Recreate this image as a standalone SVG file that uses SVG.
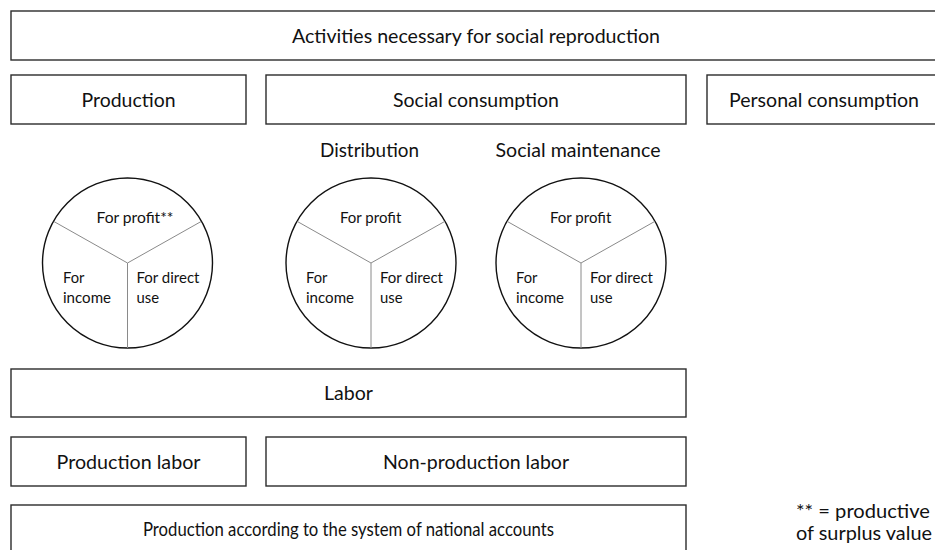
<svg xmlns="http://www.w3.org/2000/svg" width="935" height="550" viewBox="0 0 935 550">
  <style>
    .box { fill: #ffffff; stroke: #2b2b2b; stroke-width: 1.4; }
    .pie { fill: #ffffff; stroke: #111111; stroke-width: 1.4; }
    .spoke { fill: none; stroke: #8a8a8a; stroke-width: 1; }
    text { font-family: Lato, "Open Sans", "Liberation Sans", sans-serif; fill: #111111; }
    .lg { font-size: 19px; text-anchor: middle; }
    .hd { font-size: 19px; text-anchor: middle; }
    .sm { font-size: 14.5px; }
    .note { font-size: 19px; }
  </style>
  <defs>
    <!-- three-way split of a circle: two upper spokes at 30 degrees, one straight down -->
    <g id="split">
      <circle class="pie" cx="0" cy="0" r="85"/>
      <path class="spoke" d="M0 0 L-73.6 -41.5 M0 0 L73.6 -41.5 M0 0 L0 85"/>
    </g>
  </defs>

  <rect width="935" height="550" fill="#ffffff"/>

  <!-- top level -->
  <g id="activities">
    <rect class="box" x="11" y="11" width="931" height="49"/>
    <text class="lg" x="476" y="42.7" textLength="368" lengthAdjust="spacingAndGlyphs">Activities necessary for social reproduction</text>
  </g>

  <!-- second row -->
  <g id="production">
    <rect class="box" x="11" y="75" width="235" height="49"/>
    <text class="lg" x="128.5" y="106.5" textLength="94" lengthAdjust="spacingAndGlyphs">Production</text>
  </g>
  <g id="social-consumption">
    <rect class="box" x="266" y="75" width="420" height="49"/>
    <text class="lg" x="476" y="106.5" textLength="166" lengthAdjust="spacingAndGlyphs">Social consumption</text>
  </g>
  <g id="personal-consumption">
    <rect class="box" x="707" y="75" width="235" height="49"/>
    <text class="lg" x="824" y="106.5" textLength="190" lengthAdjust="spacingAndGlyphs">Personal consumption</text>
  </g>

  <!-- sub-headings over the social consumption circles -->
  <g id="distribution-label">
    <text class="hd" x="369.5" y="156.7" textLength="99" lengthAdjust="spacingAndGlyphs">Distribution</text>
  </g>
  <g id="maintenance-label">
    <text class="hd" x="578" y="156.7" textLength="165" lengthAdjust="spacingAndGlyphs">Social maintenance</text>
  </g>

  <!-- circles -->
  <g id="production-split">
    <use href="#split" x="127.5" y="263"/>
    <text class="sm" x="96.5" y="222.7" textLength="77" lengthAdjust="spacingAndGlyphs">For profit**</text>
    <text class="sm" x="63" y="283" textLength="21.4" lengthAdjust="spacingAndGlyphs">For</text>
    <text class="sm" x="63" y="302.5" textLength="48" lengthAdjust="spacingAndGlyphs">income</text>
    <text class="sm" x="136.5" y="283" textLength="63" lengthAdjust="spacingAndGlyphs">For direct</text>
    <text class="sm" x="136.5" y="302.5" textLength="22.6" lengthAdjust="spacingAndGlyphs">use</text>
  </g>
  <g id="distribution-split">
    <use href="#split" x="371" y="263"/>
    <text class="sm" x="340" y="222.7" textLength="61.3" lengthAdjust="spacingAndGlyphs">For profit</text>
    <text class="sm" x="306" y="283" textLength="21.4" lengthAdjust="spacingAndGlyphs">For</text>
    <text class="sm" x="306" y="302.5" textLength="48" lengthAdjust="spacingAndGlyphs">income</text>
    <text class="sm" x="380" y="283" textLength="63" lengthAdjust="spacingAndGlyphs">For direct</text>
    <text class="sm" x="380" y="302.5" textLength="22.6" lengthAdjust="spacingAndGlyphs">use</text>
  </g>
  <g id="maintenance-split">
    <use href="#split" x="581" y="263"/>
    <text class="sm" x="550" y="222.7" textLength="61.3" lengthAdjust="spacingAndGlyphs">For profit</text>
    <text class="sm" x="516" y="283" textLength="21.4" lengthAdjust="spacingAndGlyphs">For</text>
    <text class="sm" x="516" y="302.5" textLength="48" lengthAdjust="spacingAndGlyphs">income</text>
    <text class="sm" x="590" y="283" textLength="63" lengthAdjust="spacingAndGlyphs">For direct</text>
    <text class="sm" x="590" y="302.5" textLength="22.6" lengthAdjust="spacingAndGlyphs">use</text>
  </g>

  <!-- labor rows -->
  <g id="labor">
    <rect class="box" x="11" y="369" width="675" height="48"/>
    <text class="lg" x="348.5" y="400" textLength="49" lengthAdjust="spacingAndGlyphs">Labor</text>
  </g>
  <g id="production-labor">
    <rect class="box" x="11" y="437" width="235" height="49"/>
    <text class="lg" x="128.5" y="468.5" textLength="144" lengthAdjust="spacingAndGlyphs">Production labor</text>
  </g>
  <g id="non-production-labor">
    <rect class="box" x="266" y="437" width="420" height="49"/>
    <text class="lg" x="476" y="468.5" textLength="186" lengthAdjust="spacingAndGlyphs">Non-production labor</text>
  </g>
  <g id="sna-production">
    <rect class="box" x="11" y="505" width="675" height="60"/>
    <text class="lg" x="348.5" y="536" textLength="411" lengthAdjust="spacingAndGlyphs">Production according to the system of national accounts</text>
  </g>

  <!-- footnote -->
  <g id="footnote">
    <text class="note" x="796" y="518" textLength="134" lengthAdjust="spacingAndGlyphs">** = productive</text>
    <text class="note" x="796" y="539.5" textLength="136" lengthAdjust="spacingAndGlyphs">of surplus value</text>
  </g>
</svg>
